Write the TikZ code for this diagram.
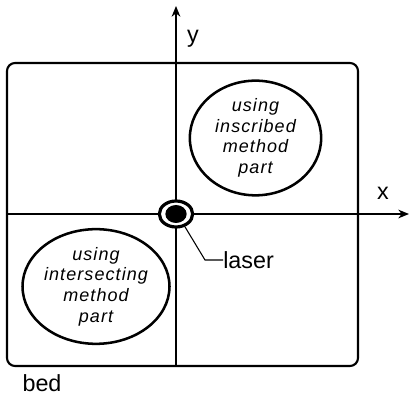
\documentclass[tikz,border=0pt]{standalone}
\usepackage{fontspec}
\setmainfont{Liberation Sans}
\usetikzlibrary{arrows.meta,shapes.geometric}
\begin{document}
\begin{tikzpicture}[x=0.75pt,y=-0.75pt,
  axis/.style={line width=1.6pt,-{Stealth[length=8pt,width=6.5pt,inset=2.5pt]}},
  partbox/.style={draw,ellipse,line width=1.9pt,inner sep=0pt,
    minimum width=98.5pt,minimum height=86pt,align=center,
    font=\fontsize{13.5}{15.5}\selectfont\itshape\addfontfeatures{LetterSpace=6}},
  lbl/.style={font=\fontsize{17.5}{20}\selectfont,inner sep=0pt}]
\useasboundingbox (0,0) rectangle (410,398);
% bed
\draw[line width=1.6pt,rounded corners=6pt] (7,63) rectangle (358,366);
% axes
\coordinate (yb) at (176,366);
\coordinate (yt) at (176,6);
\coordinate (xl) at (7,214);
\coordinate (xr) at (409,214);
\draw[axis] (yb) -- (yt);
\draw[axis] (xl) -- (xr);
\node[lbl] (ylab) at (193,39) {y};
\node[lbl] (xlab) at (383,193) {x};
% parts
\node[partbox] (inscribed) at (255.5,138) {using\\inscribed\\method\\part};
\node[partbox] (intersecting) at (96,286.5) {using\\intersecting\\method\\part};
% laser
\node[draw,ellipse,line width=2.4pt,fill=white,minimum width=25pt,minimum height=19.5pt,inner sep=0pt] (laser) at (176,214) {};
\node[ellipse,fill=black,minimum width=16pt,minimum height=13.5pt,inner sep=0pt] (spot) at (176,214) {};
\coordinate (bend) at (205,260);
\node[lbl,anchor=west] (laserlab) at (223,260) {laser};
\draw[line width=0.8pt] (laser.-55) -- (bend) -- (laserlab.west);
\node[lbl] (bed) at (42,383) {bed};
\end{tikzpicture}
\end{document}
